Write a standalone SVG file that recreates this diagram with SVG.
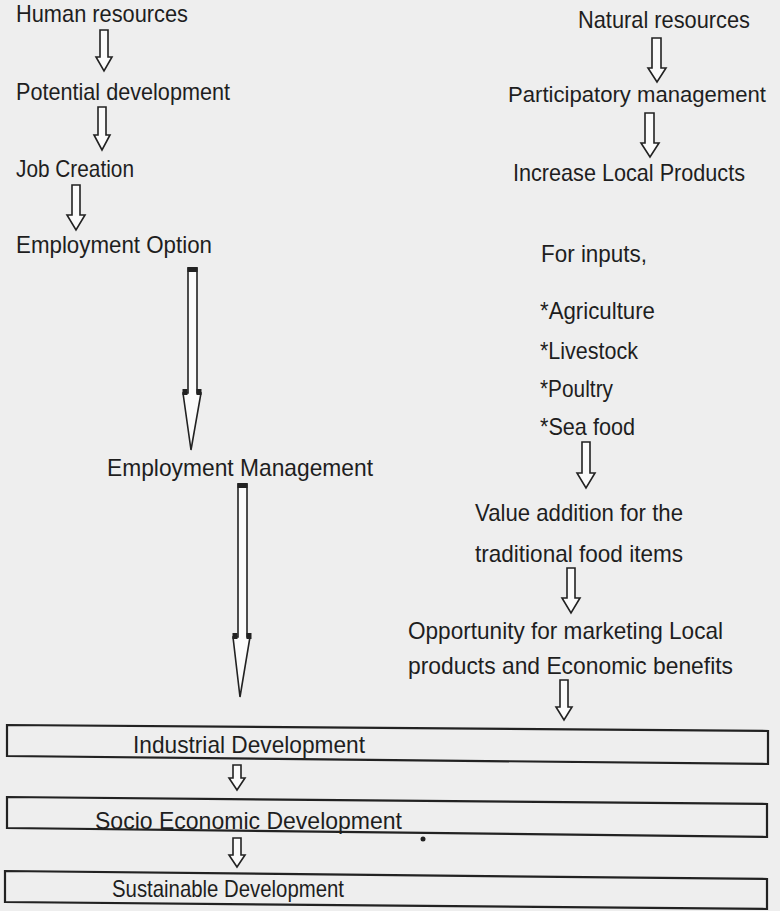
<svg xmlns="http://www.w3.org/2000/svg" width="780" height="911" viewBox="0 0 780 911">
<style>
text{font-family:"Liberation Sans",Arial,sans-serif;font-size:24px;fill:#1e1e1e}
.arr{fill:#fbfbfb;stroke:#222;stroke-width:1.6;stroke-linejoin:miter}
.box{fill:none;stroke:#222;stroke-width:2.2}
.cap{fill:#222}
</style>
<rect x="0" y="0" width="780" height="911" fill="#eeeeee"/>
<g id="connectors">
<path class="arr" d="M100,30 H108 V57 H112 L104,71 L96,57 H100 Z"/>
<path class="arr" d="M98,107 H106 V135 H110 L102,150 L94,135 H98 Z"/>
<path class="arr" d="M72,185 H80 V215 H85 L76,230 L67,215 H72 Z"/>
<path class="arr" d="M188,268 H197 V393 H201 L191,450 L183,393 H188 Z"/>
<rect class="cap" x="187.5" y="267" width="10" height="5"/>
<rect class="cap" x="182.5" y="389" width="5" height="6"/>
<rect class="cap" x="196.5" y="389" width="5" height="6"/>
<path class="arr" d="M238,484 H247 V637 H250 L240,697 L233,637 H238 Z"/>
<rect class="cap" x="237.5" y="483" width="10" height="5"/>
<rect class="cap" x="232.5" y="633" width="5" height="6"/>
<rect class="cap" x="246.5" y="633" width="5" height="6"/>
<path class="arr" d="M652,38 H661 V68 H666 L657,82 L648,68 H652 Z"/>
<path class="arr" d="M645,113 H654 V143 H659 L650,157 L641,143 H645 Z"/>
<path class="arr" d="M582,442 H590 V473 H595 L586,488 L577,473 H582 Z"/>
<path class="arr" d="M567,568 H575 V598 H580 L571,613 L562,598 H567 Z"/>
<path class="arr" d="M560,680 H568 V707 H572 L564,720 L556,707 H560 Z"/>
<path class="arr" d="M233,765 H241 V778 H245 L237,790 L229,778 H233 Z"/>
<path class="arr" d="M233,838 H241 V855 H245 L237,867 L229,855 H233 Z"/>
</g>
<g id="human-resources"><text x="16" y="22" textLength="172" lengthAdjust="spacingAndGlyphs">Human resources</text></g>
<g id="potential-development"><text x="16" y="100" textLength="214" lengthAdjust="spacingAndGlyphs">Potential development</text></g>
<g id="job-creation"><text x="16" y="177" textLength="118" lengthAdjust="spacingAndGlyphs">Job Creation</text></g>
<g id="employment-option"><text x="16" y="253" textLength="196" lengthAdjust="spacingAndGlyphs">Employment  Option</text></g>
<g id="employment-management"><text x="107" y="476" textLength="266" lengthAdjust="spacingAndGlyphs">Employment Management</text></g>
<g id="natural-resources"><text x="578" y="28" textLength="172" lengthAdjust="spacingAndGlyphs">Natural resources</text></g>
<g id="participatory-management"><text x="508" y="102" style="font-size:22px" textLength="258" lengthAdjust="spacingAndGlyphs">Participatory management</text></g>
<g id="increase-local-products"><text x="513" y="181" textLength="232" lengthAdjust="spacingAndGlyphs">Increase Local Products</text></g>
<g id="inputs">
<text x="541" y="262" textLength="106" lengthAdjust="spacingAndGlyphs">For inputs,</text>
<text x="540" y="319" textLength="115" lengthAdjust="spacingAndGlyphs">*Agriculture</text>
<text x="540" y="359" textLength="98" lengthAdjust="spacingAndGlyphs">*Livestock</text>
<text x="540" y="397" textLength="73" lengthAdjust="spacingAndGlyphs">*Poultry</text>
<text x="540" y="435" textLength="95" lengthAdjust="spacingAndGlyphs">*Sea food</text>
</g>
<g id="value-addition">
<text x="475" y="521" textLength="208" lengthAdjust="spacingAndGlyphs">Value addition for the</text>
<text x="475" y="562" textLength="208" lengthAdjust="spacingAndGlyphs">traditional food items</text>
</g>
<g id="opportunity">
<text x="408" y="639" textLength="315" lengthAdjust="spacingAndGlyphs">Opportunity for marketing Local</text>
<text x="408" y="674" textLength="325" lengthAdjust="spacingAndGlyphs">products and Economic benefits</text>
</g>
<g id="industrial-development">
<polygon class="box" points="7,725 768,731 768,764 7,756"/>
<text x="133" y="753" textLength="232" lengthAdjust="spacingAndGlyphs">Industrial Development</text>
</g>
<g id="socio-economic-development">
<polygon class="box" points="7,797 767,804 767,837 7,828"/>
<text x="95" y="829" textLength="307" lengthAdjust="spacingAndGlyphs">Socio Economic Development</text>
<circle cx="423" cy="839" r="2.5" fill="#222"/>
</g>
<g id="sustainable-development">
<polygon class="box" points="5,871 767,879 767,909 5,902"/>
<text x="112" y="897" textLength="232" lengthAdjust="spacingAndGlyphs">Sustainable Development</text>
</g>
</svg>
